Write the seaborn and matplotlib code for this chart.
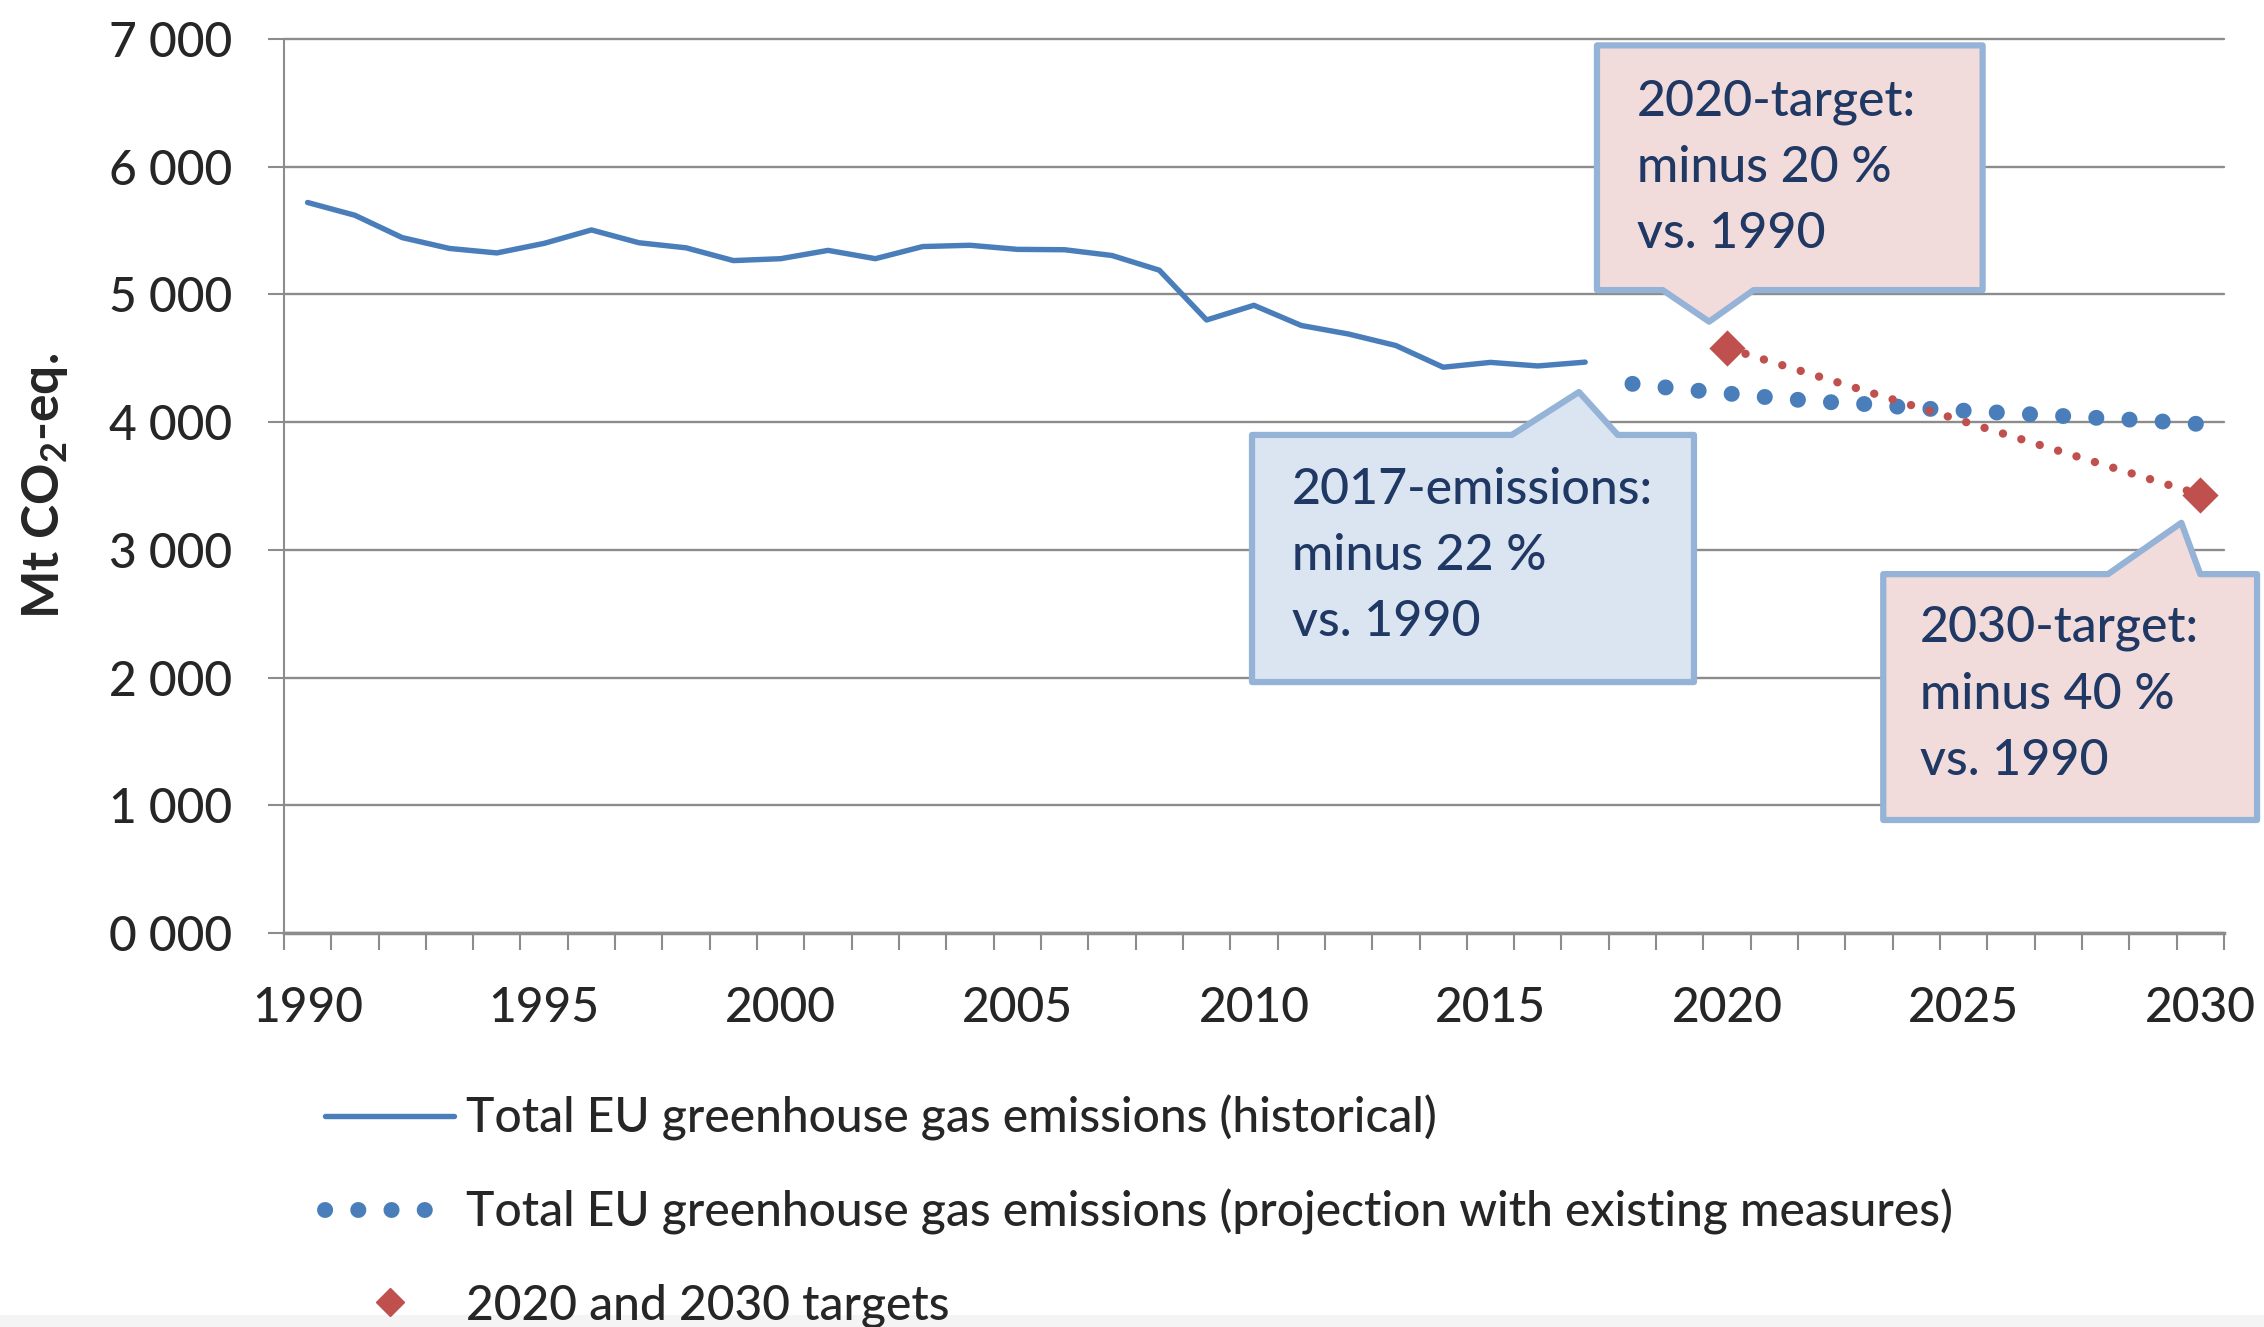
import numpy as np
import pandas as pd
import matplotlib
matplotlib.use("Agg")
import matplotlib.pyplot as plt
import seaborn as sns
from matplotlib.lines import Line2D
from matplotlib.patches import Polygon, Rectangle
from matplotlib.ticker import FixedLocator

# %% data (Mt CO2-eq.)
hist_years = list(range(1990, 2018))
hist_values = [5720, 5620, 5445, 5360, 5325, 5400, 5505, 5405, 5365, 5265, 5280,
               5345, 5280, 5375, 5385, 5353, 5350, 5305, 5190, 4800, 4915, 4757,
               4690, 4600, 4430, 4468, 4440, 4470]
proj_years = list(range(2018, 2031))
proj_values = [4300, 4260, 4225, 4190, 4160, 4140, 4110, 4090, 4070, 4050, 4030, 4010, 3985]
target_years = [2020, 2030]
target_values = [4580, 3432]

x_tick_years = [1990, 1995, 2000, 2005, 2010, 2015, 2020, 2025, 2030]
y_ticks = [0, 1000, 2000, 3000, 4000, 5000, 6000, 7000]
y_tick_labels = ["0 000", "1 000", "2 000", "3 000", "4 000", "5 000", "6 000", "7 000"]

legend_labels = ["Total EU greenhouse gas emissions (historical)",
                 "Total EU greenhouse gas emissions (projection with existing measures)",
                 "2020 and 2030 targets"]
callout_2017 = ["2017-emissions:", "minus 22 %", "vs. 1990"]
callout_2020 = ["2020-target:", "minus 20 %", "vs. 1990"]
callout_2030 = ["2030-target:", "minus 40 %", "vs. 1990"]

df_hist = pd.DataFrame({"year": hist_years, "value": hist_values})
df_proj = pd.DataFrame({"year": proj_years, "value": proj_values})
df_target = pd.DataFrame({"year": target_years, "value": target_values})

# %% style
sns.set_style("white")
plt.rcParams["font.family"] = ["Lato", "DejaVu Sans"]
plt.rcParams["font.weight"] = "medium"
plt.rcParams["mathtext.fontset"] = "custom"
plt.rcParams["mathtext.rm"] = "Lato"
plt.rcParams["mathtext.bf"] = "Lato:bold"

blue = "#4a7ebb"
red = "#c0504d"
grid_gray = "#8c8c8c"
border = "#95b3d7"
text_blue = "#1f3864"
fs = 34.5

fig = plt.figure(figsize=(22.64, 13.27), dpi=100)
ax = fig.add_axes([0.1254, 0.2969, 0.8569, 0.6737])

proj_style = dict(lw=11.5, linestyle=(0, (0.01, 2.07)), dash_capstyle="round")

sns.lineplot(data=df_hist, x="year", y="value", ax=ax, color=blue, lw=3.9, zorder=3)
sns.lineplot(data=df_proj, x="year", y="value", ax=ax, color=blue, zorder=3, **proj_style)
sns.lineplot(data=df_target, x="year", y="value", ax=ax, color=red, lw=6.0,
             linestyle=(0, (0.01, 2.3)), dash_capstyle="round", zorder=4)
sns.scatterplot(data=df_target, x="year", y="value", ax=ax, color=red, marker="D",
                s=340, linewidth=0, zorder=5)

ax.set_xlim(1989.5, 2030.5)
ax.set_ylim(0, 7000)
ax.set_xlabel("")
ax.set_ylabel(r"Mt CO$_\mathbf{2}$-eq.", fontsize=37, fontweight="bold", va="center")
ax.yaxis.set_label_coords(-0.123, 0.5)

ax.set_yticks(y_ticks)
ax.set_yticklabels(y_tick_labels)
ax.set_xticks(x_tick_years)
ax.xaxis.set_minor_locator(FixedLocator(np.arange(1989.5, 2031, 1)))
ax.tick_params(axis="y", which="major", direction="out", length=11.5, width=1.5,
               color=grid_gray, labelsize=fs, pad=26, left=True)
ax.tick_params(axis="x", which="major", length=0, labelsize=fs, pad=38, bottom=True)
ax.tick_params(axis="x", which="minor", direction="out", length=12, width=1.5,
               color=grid_gray, bottom=True)

ax.grid(axis="y", color=grid_gray, lw=1.7)
ax.grid(axis="x", visible=False)
for gl in ax.get_ygridlines():
    gl.set_clip_on(False)
for side in ["top", "right"]:
    ax.spines[side].set_visible(False)
ax.spines["left"].set_color(grid_gray)
ax.spines["left"].set_linewidth(1.5)
ax.spines["bottom"].set_color(grid_gray)
ax.spines["bottom"].set_linewidth(2.5)


# %% callouts (box + pointer), in data coordinates
def callout(verts, face, lines, tx, ty0, step=520):
    poly = Polygon(verts, closed=True, facecolor=face, edgecolor=border, lw=4.5,
                   joinstyle="round", clip_on=False, zorder=6)
    ax.add_patch(poly)
    for i, line in enumerate(lines):
        ax.text(tx, ty0 - i * step, line, fontsize=fs + 1.5, color=text_blue,
                ha="left", va="center", zorder=7, clip_on=False)


callout([(2009.96, 1965), (2009.96, 3900), (2015.45, 3900), (2016.87, 4236),
         (2017.69, 3900), (2019.30, 3900), (2019.30, 1965)],
        "#dbe5f1", callout_2017, 2010.8, 3472)
callout([(2017.25, 6950), (2025.40, 6950), (2025.40, 5034), (2020.56, 5034),
         (2019.62, 4787), (2018.64, 5034), (2017.25, 5034)],
        "#f2dcdb", callout_2020, 2018.1, 6510)
callout([(2023.30, 885), (2023.30, 2810), (2028.05, 2810), (2029.60, 3212),
         (2030.00, 2810), (2031.20, 2810), (2031.20, 885)],
        "#f2dcdb", callout_2030, 2024.08, 2386)

# %% legend
handles = [Line2D([], [], color=blue, lw=3.9),
           Line2D([], [], color=blue, **proj_style),
           Line2D([], [], color=red, marker="D", markersize=14, lw=0)]
ax.legend(handles, legend_labels, loc="upper left", bbox_to_anchor=(0.1435, 0.175),
          bbox_transform=fig.transFigure, frameon=False, fontsize=fs,
          handlelength=2.7, handletextpad=0.25, labelspacing=1.0, borderpad=0,
          borderaxespad=0)

fig.patches.append(Rectangle((0, 0), 1, 0.009, transform=fig.transFigure,
                             facecolor="#f4f4f4", edgecolor="none", zorder=-1))

fig.savefig("out.png", dpi=100)
